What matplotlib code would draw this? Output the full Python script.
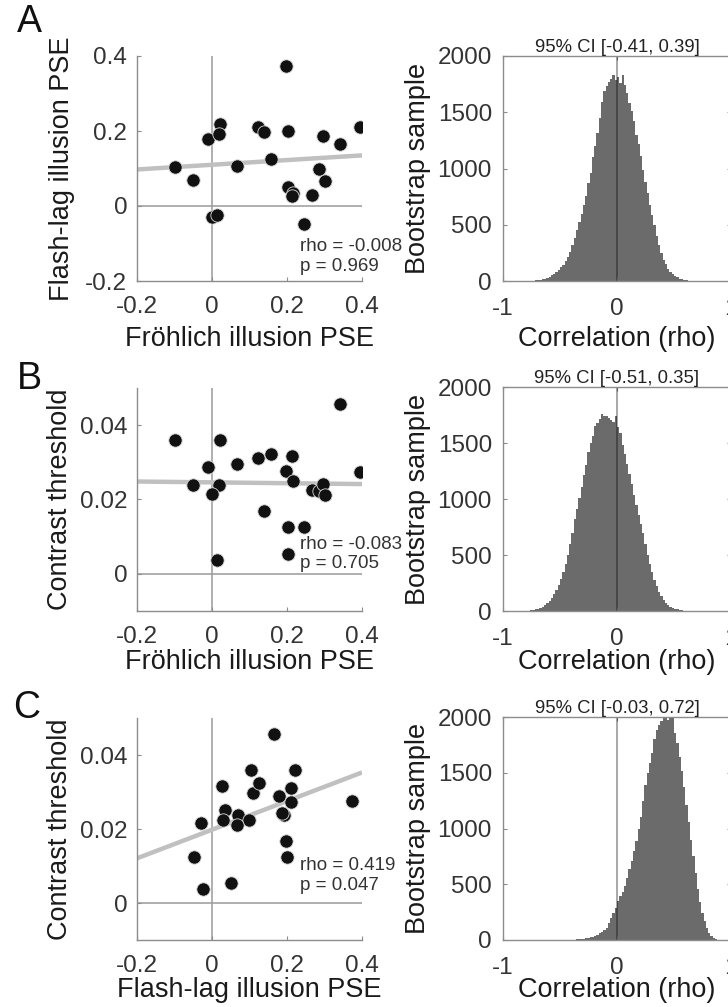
import numpy as np
import matplotlib
matplotlib.use('Agg')
import matplotlib.pyplot as plt
from matplotlib.ticker import FormatStrFormatter

plt.rcParams['font.family'] = ['Liberation Sans', 'DejaVu Sans']
plt.rcParams['axes.unicode_minus'] = False

# one value per observer (n = 23)
froehlich_pse = [-0.099, -0.050, -0.010, 0.020, 0.018, 0.001, 0.013, 0.066,
                 0.122, 0.138, 0.157, 0.198, 0.202, 0.202, 0.216, 0.213,
                 0.246, 0.267, 0.284, 0.295, 0.300, 0.341, 0.395]
flashlag_pse = [0.105, 0.069, 0.179, 0.220, 0.193, -0.030, -0.023, 0.108,
                0.211, 0.197, 0.126, 0.374, 0.200, 0.050, 0.035, 0.027,
                -0.047, 0.030, 0.098, 0.186, 0.066, 0.165, 0.211]
contrast_thr = [0.0360, 0.0239, 0.0288, 0.0360, 0.0238, 0.0216, 0.0038, 0.0296,
                0.0312, 0.0168, 0.0323, 0.0277, 0.0125, 0.0054, 0.0251, 0.0317,
                0.0125, 0.0225, 0.0223, 0.0243, 0.0211, 0.0458, 0.0273]

rho_text = ['rho = -0.008\np = 0.969', 'rho = -0.083\np = 0.705',
            'rho = 0.419\np = 0.047']
ci_text = ['95% CI [-0.41, 0.39]', '95% CI [-0.51, 0.35]',
           '95% CI [-0.03, 0.72]']

# bootstrap distributions of rho, bins of 0.02
bin_width = 0.02
boot_a_start = -0.76
boot_a = [2, 4, 6, 9, 12, 16, 22, 30, 40, 52, 65, 82, 100, 122, 145, 175,
          215, 260, 320, 385, 450, 525, 600, 680, 760, 870, 960, 1100, 1200,
          1320, 1450, 1590, 1690, 1730, 1770, 1800, 1830, 1790, 1810, 1760,
          1830, 1740, 1670, 1580, 1510, 1420, 1300, 1220, 1110, 990, 880, 780,
          680, 590, 500, 400, 320, 250, 190, 150, 110, 80, 60, 45, 32, 22, 15,
          10, 6, 4, 2]
boot_b_start = -0.78
boot_b = [3, 6, 10, 14, 20, 28, 38, 52, 70, 92, 118, 148, 185, 230, 285, 345,
          420, 500, 600, 700, 820, 910, 1010, 1110, 1210, 1300, 1420, 1500,
          1560, 1650, 1680, 1710, 1760, 1740, 1745, 1720, 1705, 1690, 1740,
          1640, 1590, 1480, 1400, 1310, 1220, 1130, 1040, 950, 860, 780, 700,
          600, 500, 420, 350, 280, 220, 170, 130, 100, 75, 55, 40, 28, 20, 14,
          9, 6, 3]
boot_c_start = -0.40
boot_c = [2, 3, 5, 7, 9, 11, 14, 18, 24, 30, 38, 48, 60, 75, 92, 110, 150,
          200, 240, 290, 350, 395, 430, 480, 560, 640, 710, 800, 890, 1000,
          1100, 1250, 1390, 1500, 1590, 1680, 1800, 1880, 1930, 1960, 1990,
          2010, 1970, 2040, 2000, 1860, 1770, 1640, 1520, 1370, 1210, 1060,
          900, 750, 600, 460, 340, 240, 170, 110, 65, 32, 14, 6, 2]

W, H = 728, 1007
fig = plt.figure(figsize=(W / 100, H / 100), dpi=100)


def px_axes(left, top, right, bottom):
    return fig.add_axes([left / W, 1 - bottom / H, (right - left) / W,
                         (bottom - top) / H])


gray_txt = '#333333'
axis_gray = '#8c8c8c'
tick_fs = 17.5
label_fs = 19.5


def scatter_panel(ax, x, y, ylim, yticks, xlab, ylab, txt, txt_y, ylab_x,
                  xlab_y):
    x = np.asarray(x)
    y = np.asarray(y)
    ax.axvline(0, color='#9a9a9a', lw=1.1, zorder=1)
    ax.axhline(0, color='#9a9a9a', lw=1.1, zorder=1)
    k, b = np.polyfit(x, y, 1)
    xs = np.array([-0.2, 0.4])
    ax.plot(xs, k * xs + b, color='#c0c0c0', lw=3.2, zorder=2,
            solid_capstyle='butt')
    ax.scatter(x, y, s=92, c='#111111', edgecolors='#d8d8d8',
               linewidths=0.6, zorder=3)
    ax.set_xlim(-0.2, 0.4)
    ax.set_ylim(*ylim)
    ax.set_xticks([-0.2, 0, 0.2, 0.4])
    ax.set_yticks(yticks)
    ax.xaxis.set_major_formatter(FormatStrFormatter('%g'))
    ax.yaxis.set_major_formatter(FormatStrFormatter('%g'))
    for s in ['top', 'right']:
        ax.spines[s].set_visible(False)
    for s in ['left', 'bottom']:
        ax.spines[s].set_color(axis_gray)
        ax.spines[s].set_linewidth(1.0)
    ax.tick_params(direction='in', length=3, color=axis_gray,
                   labelsize=tick_fs, labelcolor=gray_txt)
    ax.tick_params(axis='x', pad=11)
    ax.tick_params(axis='y', pad=7)
    ax.set_xlabel(xlab, fontsize=label_fs, color='#1a1a1a')
    ax.set_ylabel(ylab, fontsize=label_fs, color='#1a1a1a')
    ax.xaxis.set_label_coords(0.5, xlab_y)
    ax.xaxis.label.set_va('center')
    ax.yaxis.set_label_coords(ylab_x, 0.5)
    ax.yaxis.label.set_va('center')
    ax.text(0.724, txt_y, txt, transform=ax.transAxes, fontsize=13.5,
            color=gray_txt, ha='left', va='center', linespacing=1.2)


def hist_panel(ax, start, counts, title, xlab_y):
    edges = start + bin_width * np.arange(len(counts) + 1)
    ax.stairs(counts, edges, fill=True, color='#6b6b6b', lw=0)
    ax.axvline(0, color='black', alpha=0.4, lw=1.2)
    ax.set_xlim(-1, 1)
    ax.set_ylim(0, 2000)
    ax.set_xticks([-1, 0, 1])
    ax.set_yticks([0, 500, 1000, 1500, 2000])
    ax.xaxis.set_major_formatter(FormatStrFormatter('%g'))
    for s in ax.spines.values():
        s.set_color(axis_gray)
        s.set_linewidth(1.0)
    ax.tick_params(direction='in', length=3, color=axis_gray, top=True,
                   right=True, labelsize=tick_fs, labelcolor=gray_txt)
    ax.tick_params(axis='x', pad=12)
    ax.tick_params(axis='y', pad=8)
    ax.set_title(title, fontsize=13.3, color='#222222', pad=3)
    ax.set_xlabel('Correlation (rho)', fontsize=label_fs, color='#1a1a1a')
    ax.set_ylabel('Bootstrap sample', fontsize=label_fs, color='#1a1a1a')
    ax.xaxis.set_label_coords(0.5, xlab_y)
    ax.xaxis.label.set_va('center')
    ax.yaxis.set_label_coords(-0.373, 0.5)
    ax.yaxis.label.set_va('center')


ax_a = px_axes(137, 56, 362, 281)
scatter_panel(ax_a, froehlich_pse, flashlag_pse, (-0.2, 0.4),
              [-0.2, 0, 0.2, 0.4], 'Fröhlich illusion PSE',
              'Flash-lag illusion PSE', rho_text[0], 0.11, -0.333, -0.258)
ax_b = px_axes(137, 388, 362, 611)
scatter_panel(ax_b, froehlich_pse, contrast_thr, (-0.01, 0.05),
              [0, 0.02, 0.04], 'Fröhlich illusion PSE', 'Contrast threshold',
              rho_text[1], 0.255, -0.342, -0.228)
ax_c = px_axes(137, 718, 362, 940)
scatter_panel(ax_c, flashlag_pse, contrast_thr, (-0.01, 0.05),
              [0, 0.02, 0.04], 'Flash-lag illusion PSE', 'Contrast threshold',
              rho_text[2], 0.29, -0.342, -0.225)

h_a = px_axes(503, 56, 731, 281)
hist_panel(h_a, boot_a_start, boot_a, ci_text[0], -0.258)
h_b = px_axes(503, 387, 731, 611)
hist_panel(h_b, boot_b_start, boot_b, ci_text[1], -0.228)
h_c = px_axes(503, 717, 731, 940)
hist_panel(h_c, boot_c_start, boot_c, ci_text[2], -0.225)

for lab, (x, y) in zip(['A', 'B', 'C'], [(29, 22), (29, 379), (27, 708)]):
    fig.text(x / W, 1 - y / H, lab, fontsize=27, ha='center', va='center',
             color='#111111')

fig.savefig('out.png', dpi=100)
